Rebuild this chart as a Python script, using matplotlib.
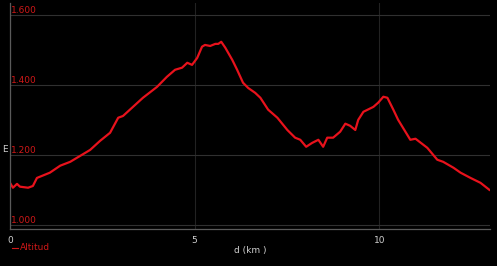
import matplotlib
matplotlib.use('Agg')
import matplotlib.pyplot as plt
import matplotlib.transforms as mtransforms

# Perfil de altitud (d en km, altitud en m)
distance_km = [0.00, 0.08, 0.19, 0.27, 0.49, 0.62, 0.73, 1.08, 1.36, 1.63,
               1.90, 2.17, 2.44, 2.71, 2.93, 3.06, 3.60, 3.98, 4.25, 4.47,
               4.66, 4.80, 4.93, 5.07, 5.20, 5.28, 5.42, 5.56, 5.64, 5.72,
               5.83, 6.02, 6.15, 6.31, 6.45, 6.64, 6.78, 6.99, 7.24, 7.51,
               7.72, 7.86, 8.02, 8.18, 8.35, 8.48, 8.59, 8.75, 8.94, 9.08,
               9.21, 9.35, 9.43, 9.57, 9.84, 9.97, 10.11, 10.22, 10.38, 10.51,
               10.84, 10.98, 11.30, 11.57, 11.73, 12.01, 12.20, 12.47, 12.74, 12.98]
altitude_m = [1120, 1106, 1117, 1109, 1106, 1111, 1134, 1149, 1169, 1180,
              1197, 1214, 1240, 1263, 1306, 1311, 1363, 1394, 1423, 1443,
              1449, 1463, 1457, 1477, 1509, 1514, 1511, 1517, 1517, 1523,
              1506, 1471, 1443, 1406, 1391, 1377, 1363, 1329, 1306, 1271,
              1249, 1243, 1223, 1234, 1243, 1223, 1249, 1249, 1266, 1289,
              1283, 1271, 1300, 1323, 1337, 1349, 1366, 1363, 1329, 1300,
              1243, 1246, 1220, 1186, 1180, 1163, 1149, 1134, 1120, 1100]

x_ticks = [0, 5, 10]
y_ticks = [1000, 1200, 1400, 1600]
y_tick_labels = ['1.000', '1.200', '1.400', '1.600']

RED = '#e8121c'
LABEL_RED = '#d01818'
GRID = '#2a2a2a'
AXIS = '#5a5a5a'
TXT = '#d0d0d0'

fig = plt.figure(figsize=(4.97, 2.66), dpi=100, facecolor='black')
ax = fig.add_axes([0.0201, 0.139, 0.966, 0.85], facecolor='black')

ax.plot(distance_km, altitude_m, color=RED, linewidth=1.6, solid_joinstyle='round')

ax.set_xlim(0, 13.0)
ax.set_ylim(988, 1634)

ax.set_xticks(x_ticks)
ax.set_yticks(y_ticks)
ax.grid(True, axis='y', color='#303030', linewidth=0.8)
ax.grid(True, axis='x', color='#222222', linewidth=0.8)
ax.tick_params(axis='both', length=0)
ax.tick_params(axis='x', colors=TXT, labelsize=6.5, pad=5)
ax.set_yticklabels([])

for s in ['top', 'right']:
    ax.spines[s].set_visible(False)
for s in ['left', 'bottom']:
    ax.spines[s].set_color(AXIS)
    ax.spines[s].set_linewidth(0.9)

# etiquetas del eje y dentro del gráfico
trans = mtransforms.blended_transform_factory(ax.transAxes, ax.transData)
for v, lab in zip(y_ticks, y_tick_labels):
    ax.text(0.003, v, lab, transform=trans, color=LABEL_RED, fontsize=6.5,
            va='bottom', ha='left')

fig.text(5 / 497, 1 - 150 / 266, 'E', color=TXT, fontsize=6.5, ha='center', va='center')
ax.set_xlabel('d (km )', color=TXT, fontsize=6.5, labelpad=1)

# leyenda
fig.lines.append(plt.Line2D([12 / 497, 18 / 497], [1 - 248 / 266] * 2,
                            transform=fig.transFigure, color=LABEL_RED, linewidth=0.8))
fig.text(20 / 497, 1 - 248 / 266, 'Altitud', color=LABEL_RED, fontsize=6.5,
         ha='left', va='center')

fig.savefig('out.png', dpi=100, facecolor='black')
